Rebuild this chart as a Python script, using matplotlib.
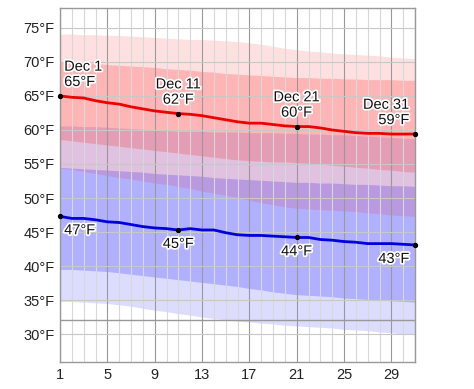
import numpy as np
import matplotlib.pyplot as plt
import matplotlib.patheffects as pe

plt.rcParams['font.family'] = ['Liberation Sans', 'DejaVu Sans']

# days of December
days = np.arange(1, 32)

# average daily high / low (°F)
high_mean = [65.0, 64.8, 64.7, 64.3, 64.0, 63.8, 63.4, 63.1, 62.8, 62.6, 62.4,
             62.3, 62.1, 61.8, 61.5, 61.2, 61.0, 61.0, 60.8, 60.6, 60.5, 60.5,
             60.3, 60.0, 59.8, 59.6, 59.5, 59.5, 59.4, 59.4, 59.4]
low_mean = [47.3, 47.0, 47.0, 46.8, 46.5, 46.4, 46.1, 45.8, 45.6, 45.5, 45.3,
            45.5, 45.3, 45.3, 44.9, 44.6, 44.5, 44.5, 44.4, 44.3, 44.2, 44.2,
            43.9, 43.8, 43.6, 43.5, 43.3, 43.3, 43.3, 43.2, 43.1]

# percentile bands of the highs
high_p90 = [74.1, 74.1, 74.0, 74.0, 73.9, 73.9, 73.8, 73.7, 73.6, 73.5, 73.4,
            73.3, 73.3, 73.2, 73.1, 73.0, 72.8, 72.6, 72.3, 72.0, 71.8, 71.6,
            71.5, 71.3, 71.2, 71.1, 71.0, 70.9, 70.7, 70.6, 70.5]
high_p75 = [70.0, 70.0, 69.9, 69.8, 69.6, 69.5, 69.4, 69.3, 69.2, 69.0, 68.9,
            68.8, 68.6, 68.5, 68.3, 68.2, 68.1, 68.0, 67.9, 67.8, 67.7, 67.7,
            67.6, 67.6, 67.5, 67.5, 67.4, 67.4, 67.4, 67.3, 67.3]
high_p25 = [58.6, 58.4, 58.2, 58.0, 57.8, 57.6, 57.4, 57.2, 57.0, 56.8, 56.6,
            56.4, 56.2, 56.0, 55.8, 55.6, 55.5, 55.4, 55.3, 55.3, 55.2, 55.1,
            55.0, 54.8, 54.7, 54.5, 54.4, 54.2, 54.1, 53.9, 53.8]
high_p10 = [54.4, 54.2, 53.9, 53.6, 53.3, 53.0, 52.8, 52.5, 52.2, 52.0, 51.7,
            51.4, 51.0, 50.7, 50.4, 50.1, 49.7, 49.3, 49.0, 48.7, 48.5, 48.4,
            48.3, 48.2, 48.1, 48.0, 47.8, 47.7, 47.5, 47.4, 47.3]

# percentile bands of the lows
low_p90 = [60.6, 60.6, 60.5, 60.5, 60.4, 60.3, 60.2, 60.1, 60.0, 59.9, 59.8,
           59.8, 59.8, 59.7, 59.7, 59.7, 59.6, 59.6, 59.6, 59.5, 59.5, 59.4,
           59.4, 59.3, 59.3, 59.2, 59.1, 59.0, 58.9, 58.8, 58.7]
low_p75 = [54.5, 54.4, 54.3, 54.2, 54.1, 54.0, 53.9, 53.8, 53.6, 53.5, 53.4,
           53.3, 53.2, 53.0, 52.9, 52.8, 52.7, 52.6, 52.5, 52.4, 52.3, 52.3,
           52.2, 52.2, 52.1, 52.0, 52.0, 51.9, 51.8, 51.8, 51.7]
low_p25 = [39.5, 39.5, 39.4, 39.3, 39.2, 39.0, 38.8, 38.6, 38.4, 38.2, 38.0,
           37.8, 37.6, 37.4, 37.2, 37.0, 36.7, 36.5, 36.2, 36.0, 35.8, 35.7,
           35.6, 35.5, 35.3, 35.2, 35.1, 35.0, 34.9, 34.8, 34.7]
low_p10 = [34.8, 34.8, 34.7, 34.6, 34.5, 34.3, 34.1, 33.8, 33.5, 33.3, 33.0,
           32.8, 32.5, 32.3, 32.1, 31.9, 31.8, 31.6, 31.5, 31.3, 31.2, 31.1,
           31.0, 30.9, 30.7, 30.6, 30.5, 30.3, 30.2, 30.0, 29.9]

# labelled days
mark_days = [1, 11, 21, 31]
high_text = ["Dec 1\n65°F", "Dec 11\n62°F", "Dec 21\n60°F", "Dec 31\n59°F"]
low_text = ["47°F", "45°F", "44°F", "43°F"]

x_ticks = [1, 5, 9, 13, 17, 21, 25, 29]
y_ticks = [30, 35, 40, 45, 50, 55, 60, 65, 70, 75]

fig = plt.figure(figsize=(4.74, 3.89), dpi=100)
ax = fig.add_axes([0.1266, 0.0694, 0.749, 0.9096])

red = (1.0, 0.0, 0.0)
blue = (0.05, 0.05, 1.0)

# bands
ax.fill_between(days, low_p10, low_p90, color=blue, alpha=0.14, lw=0, zorder=1)
ax.fill_between(days, low_p25, low_p75, color=blue, alpha=0.21, lw=0, zorder=1)
ax.fill_between(days, high_p10, high_p90, color=red, alpha=0.12, lw=0, zorder=1)
ax.fill_between(days, high_p25, high_p75, color=red, alpha=0.19, lw=0, zorder=1)

# grid
for d in days:
    c = '#999999' if d in x_ticks else '#d8d8d8'
    ax.axvline(d, color=c, lw=0.8, zorder=2)
for t in y_ticks:
    ax.axhline(t, color='#c8c8c8', lw=0.8, zorder=2)
ax.axhline(32, color='#999999', lw=1.0, zorder=2)

# mean lines
ax.plot(days, high_mean, color='#ee0000', lw=2.0, zorder=3)
ax.plot(days, low_mean, color='#0000dd', lw=2.0, zorder=3)

hm = [high_mean[d - 1] for d in mark_days]
lm = [low_mean[d - 1] for d in mark_days]
ax.scatter(mark_days, hm, s=8, color='black', zorder=4, clip_on=False)
ax.scatter(mark_days, lm, s=8, color='black', zorder=4, clip_on=False)

halo = [pe.withStroke(linewidth=2.5, foreground='white')]
for i, d in enumerate(mark_days):
    if i == 0:
        ha, dx = 'left', 3
    elif i == len(mark_days) - 1:
        ha, dx = 'right', -4
    else:
        ha, dx = 'center', 0
    ax.annotate(high_text[i], (d, hm[i]), xytext=(dx, 5), textcoords='offset points',
                ha=ha, va='bottom', fontsize=10.5, color='#111111',
                linespacing=1.12, path_effects=halo, zorder=5)
    ax.annotate(low_text[i], (d, lm[i]), xytext=(dx, -5), textcoords='offset points',
                ha=ha, va='top', fontsize=10.5, color='#111111',
                path_effects=halo, zorder=5)

ax.set_xlim(1, 31)
ax.set_ylim(25.9, 77.9)
ax.set_xticks(x_ticks)
ax.set_yticks(y_ticks)
ax.set_yticklabels([f"{t}°F" for t in y_ticks])
ax.tick_params(length=0, labelsize=10.5, colors='#222222', pad=4)
for s in ax.spines.values():
    s.set_color('#999999')
    s.set_linewidth(1.0)

fig.savefig('out.png', dpi=100)
